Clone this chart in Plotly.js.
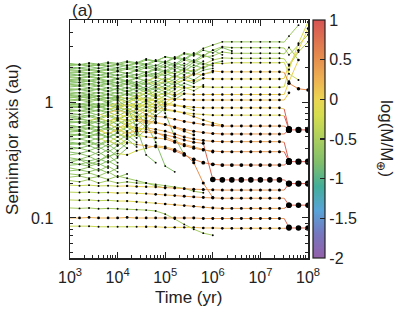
<!DOCTYPE html>
<html>
<head>
<meta charset="utf-8">
<script src="https://cdn.plot.ly/plotly-3.0.1.min.js"></script>
<style>
  html, body { margin: 0; padding: 0; background: #fff; }
  #chart { width: 402px; height: 320px; }
</style>
</head>
<body>
<div id="chart"></div>
<script>
// output times (yr); 3.162e7 is an extra sample without a snapshot dot
const times = [1000, 1585, 2512, 3981, 6310, 10000, 15850, 25120, 39810, 63100,
  100000, 158500, 251200, 398100, 631000, 1000000, 1585000, 2512000, 3981000, 6310000,
  10000000, 15850000, 25120000, 31620000, 39810000, 63100000, 100000000];
const snapshotTimes = [1585, 2512, 3981, 6310, 10000, 15850, 25120, 39810, 63100,
  100000, 158500, 251200, 398100, 631000, 1000000, 1585000, 2512000, 3981000, 6310000,
  10000000, 15850000, 25120000, 39810000, 63100000, 100000000];

// bodies that survive past the gas phase: semimajor axis (au) at each time
const survivorTracks = [
  [2.12,2.08,2.14,2.06,2.15,2.1,2.2,2.14,2.3,2.25,2.45,2.38,2.65,2.55,2.9,3.1,3.3,3.3,3.3,3.3,3.3,3.3,3.3,3.28,3.7,4.6,null],
  [2.06,2.1,2.03,2.09,2.02,2.1,2.04,2.15,2.08,2.25,2.18,2.4,2.3,2.6,2.5,2.8,3.0,2.94,2.94,2.94,2.94,2.94,2.94,2.92,2.55,3.1,3.8],
  [1.9,1.87,1.92,1.86,1.93,1.88,1.98,1.9,2.05,1.95,2.15,2.05,2.3,2.2,2.45,2.5,2.7,2.63,2.63,2.63,2.63,2.63,2.63,2.6,2.95,2.3,null],
  [1.77,1.8,1.75,1.81,1.74,1.83,1.76,1.88,1.8,1.95,1.85,2.05,1.95,2.2,2.1,2.3,2.4,2.38,2.38,2.38,2.38,2.38,2.38,2.36,2.05,2.7,3.3],
  [1.65,1.62,1.67,1.61,1.68,1.6,1.7,1.62,1.75,1.66,1.82,1.75,1.9,1.85,2.0,2.15,2.15,2.18,2.18,2.18,2.18,2.18,2.18,2.2,1.75,1.55,null],
  [1.53,1.55,1.51,1.56,1.5,1.57,1.49,1.6,1.52,1.62,1.55,1.65,1.62,1.75,1.72,1.85,1.82,1.82,1.82,1.82,1.82,1.82,1.82,1.8,1.45,1.3,1.27],
  [1.42,1.4,1.44,1.39,1.45,1.38,1.47,1.4,1.5,1.42,1.52,1.47,1.55,1.52,1.6,1.58,1.58,1.58,1.58,1.58,1.58,1.58,1.58,1.6,2.1,2.8,4.3],
  [1.28,1.3,1.26,1.31,1.25,1.32,1.24,1.33,1.26,1.35,1.3,1.36,1.32,1.35,1.35,1.34,1.34,1.34,1.34,1.34,1.34,1.34,1.34,1.35,1.9,3.2,4.9],
  [1.16,1.14,1.17,1.13,1.18,1.12,1.19,1.12,1.2,1.14,1.18,1.16,1.18,1.16,1.16,1.16,1.16,1.16,1.16,1.16,1.16,1.16,1.16,1.16,1.5,2.3,null],
  [1.04,1.06,1.03,1.07,1.02,1.08,1.01,1.09,1.02,1.08,1.05,1.06,1.05,1.04,1.04,1.04,1.04,1.04,1.04,1.04,1.04,1.04,1.04,1.04,1.2,null,null],
  [0.93,0.91,0.94,0.9,0.95,0.89,0.96,0.9,0.97,0.94,0.95,0.93,0.92,0.9,0.89,0.89,0.89,0.89,0.89,0.89,0.89,0.89,0.89,0.87,0.58,null,null],
  [0.84,0.85,0.83,0.86,0.82,0.87,0.81,0.86,0.84,0.85,0.85,0.83,0.81,0.79,0.78,0.77,0.77,0.77,0.77,0.77,0.77,0.77,0.77,0.76,0.58,null,null],
  [0.76,0.74,0.77,0.73,0.78,0.72,0.78,0.74,0.76,0.75,0.74,0.71,0.68,0.66,0.64,0.63,0.62,0.62,0.62,0.62,0.62,0.62,0.62,0.62,0.585,null,null],
  [0.67,0.68,0.66,0.69,0.65,0.7,0.64,0.69,0.66,0.66,0.64,0.61,0.58,0.56,0.545,0.535,0.53,0.53,0.53,0.53,0.53,0.53,0.53,0.53,0.575,0.575,0.575],
  [0.59,0.58,0.6,0.57,0.61,0.56,0.62,0.57,0.6,0.58,0.56,0.53,0.5,0.48,0.465,0.458,0.455,0.455,0.455,0.455,0.455,0.455,0.455,0.45,0.31,null,null],
  [0.52,0.53,0.51,0.54,0.5,0.54,0.5,0.52,0.5,0.49,0.48,0.45,0.42,0.4,0.385,0.377,0.373,0.373,0.373,0.373,0.373,0.373,0.373,0.373,0.306,0.306,0.306],
  [0.44,0.43,0.45,0.42,0.46,0.43,0.45,0.43,0.42,0.41,0.4,0.38,0.35,0.32,0.3,0.29,0.286,0.286,0.286,0.286,0.286,0.286,0.286,0.286,0.306,null,null],
  [0.55,0.56,0.54,0.57,0.53,0.58,0.54,0.56,0.55,0.54,0.52,0.5,0.47,0.45,0.44,0.215,0.213,0.213,0.213,0.213,0.213,0.213,0.213,0.213,0.198,0.198,0.198],
  [0.192,0.19,0.192,0.189,0.19,0.188,0.189,0.187,0.186,0.185,0.183,0.181,0.179,0.177,0.176,0.175,0.174,0.174,0.174,0.174,0.174,0.174,0.174,0.174,0.198,null,null],
  [0.167,0.166,0.167,0.165,0.166,0.164,0.165,0.163,0.162,0.16,0.158,0.156,0.154,0.152,0.15,0.149,0.148,0.148,0.148,0.148,0.148,0.148,0.148,0.148,0.129,0.129,0.129],
  [0.143,0.142,0.143,0.141,0.142,0.14,0.14,0.138,0.136,0.134,0.132,0.13,0.128,0.126,0.124,0.122,0.121,0.121,0.121,0.121,0.121,0.121,0.121,0.121,0.129,null,null],
  [0.1,0.1,0.101,0.1,0.1,0.1,0.101,0.1,0.1,0.1,0.1,0.1,0.1,0.1,0.099,0.099,0.099,0.099,0.099,0.099,0.099,0.099,0.099,0.099,0.083,null,null],
  [0.085,0.085,0.085,0.084,0.084,0.084,0.084,0.084,0.084,0.084,0.083,0.083,0.083,0.083,0.082,0.082,0.0815,0.0815,0.0815,0.0815,0.0815,0.0815,0.0815,0.0815,0.082,0.082,0.082]
];
// log(M/Mearth) from the given time index on
const survivorMass = [
  [[0,-0.7],[12,-0.6]],
  [[0,-0.7],[14,-0.55]],
  [[0,-0.75],[13,-0.55]],
  [[0,-0.7],[15,-0.45]],
  [[0,-0.7],[10,-0.4],[16,-0.25]],
  [[0,-0.7],[9,-0.3],[13,0.15],[24,0.55]],
  [[0,-0.7],[9,-0.25],[13,0.0]],
  [[0,-0.7],[10,-0.2]],
  [[0,-0.7],[8,-0.2],[11,0.05]],
  [[0,-0.65],[8,-0.1],[11,0.15]],
  [[0,-0.7],[6,-0.2],[10,0.1],[24,0.9]],
  [[0,-0.7],[8,-0.3],[12,-0.1],[24,0.9]],
  [[0,-0.7],[6,-0.2],[9,0.2],[12,0.4],[24,0.9]],
  [[0,-0.7],[5,-0.2],[8,0.2],[11,0.45],[24,0.95]],
  [[0,-0.7],[6,-0.2],[9,0.2],[11,0.4],[24,0.9]],
  [[0,-0.7],[6,-0.2],[9,0.2],[11,0.45],[24,0.95]],
  [[0,-0.7],[5,-0.3],[8,0.2],[11,0.6],[24,0.95]],
  [[0,-0.7],[4,-0.2],[7,0.2],[10,0.45],[15,0.85],[24,0.95]],
  [[0,-0.3],[6,0.0],[10,0.3],[13,0.45],[24,0.9]],
  [[0,-0.4],[5,-0.1],[9,0.2],[12,0.4],[24,0.85]],
  [[0,-0.4],[6,-0.1],[10,0.2],[13,0.35],[24,0.85]],
  [[0,0.25],[10,0.4],[24,0.85]],
  [[0,-0.3],[8,0.0],[14,0.2],[24,0.85]]
];

// planetesimals that merge or leave before the end
const bandTracks = [
  [2.15,2.1,2.17,2.12,2.2,2.15,2.25,2.18,2.35,2.25,2.45,2.35,2.6,2.5,2.8,2.65,2.95,2.75],
  [2.08,2.12,2.05,2.1,2.04,2.13,2.06,2.2,2.12,2.3,2.2,2.45,2.35,2.65,2.5,2.8,2.55],
  [2.0,1.97,2.02,1.96,2.03,1.98,2.08,2.0,2.12,2.05,2.25,2.1,2.4,2.25,2.55,2.35],
  [1.93,1.96,1.91,1.95,1.9,1.97,1.92,2.02,1.95,2.08,1.98,2.18,2.05,2.3,2.15,2.05],
  [1.86,1.84,1.88,1.83,1.89,1.84,1.92,1.85,1.98,1.88,2.05,1.9,2.15,1.98,2.25],
  [1.8,1.82,1.78,1.83,1.77,1.84,1.76,1.86,1.78,1.9,1.8,1.98,1.85,2.08,1.95,2.15,2.25],
  [1.74,1.71,1.75,1.7,1.76,1.69,1.78,1.7,1.82,1.72,1.88,1.75,1.95,1.8,2.0],
  [1.68,1.7,1.66,1.71,1.65,1.72,1.64,1.74,1.66,1.78,1.68,1.85,1.72,1.9],
  [1.62,1.6,1.64,1.59,1.65,1.58,1.66,1.6,1.7,1.62,1.76,1.64,1.82,1.7,1.88,1.95],
  [1.56,1.58,1.54,1.59,1.53,1.6,1.52,1.62,1.5,1.65,1.52,1.7,1.56,1.75],
  [1.5,1.48,1.52,1.47,1.53,1.46,1.55,1.45,1.57,1.47,1.62,1.5,1.68,1.55,1.75,1.8],
  [1.45,1.47,1.43,1.48,1.42,1.49,1.41,1.5,1.4,1.53,1.42,1.58],
  [1.4,1.38,1.41,1.37,1.42,1.36,1.43,1.35,1.46,1.36,1.5,1.4,1.55,1.45,1.6],
  [1.35,1.37,1.33,1.38,1.32,1.39,1.31,1.4,1.3,1.43,1.32,1.47,1.36],
  [1.3,1.28,1.32,1.27,1.33,1.26,1.34,1.25,1.36,1.26,1.4,1.3,1.45,1.35],
  [1.26,1.28,1.24,1.29,1.23,1.3,1.22,1.31,1.21,1.33,1.22,1.36],
  [1.22,1.2,1.23,1.19,1.24,1.18,1.25,1.17,1.27,1.18,1.3,1.2,1.34,1.25,1.4],
  [1.18,1.2,1.16,1.21,1.15,1.22,1.14,1.23,1.13,1.25,1.14,1.28],
  [1.14,1.12,1.15,1.11,1.16,1.1,1.17,1.09,1.19,1.1,1.22,1.12,1.26],
  [1.1,1.11,1.08,1.12,1.07,1.13,1.06,1.14,1.05,1.16,1.06],
  [1.06,1.04,1.07,1.03,1.08,1.02,1.09,1.01,1.11,1.02,1.14,1.05,1.18],
  [1.02,1.04,1.0,1.05,0.99,1.06,0.98,1.07,0.97,1.09,0.98,1.12],
  [0.98,0.96,0.99,0.95,1.0,0.94,1.01,0.93,1.03,0.94,1.06],
  [0.95,0.96,0.93,0.97,0.92,0.98,0.91,0.99,0.9,1.01,0.91,1.04],
  [0.92,0.9,0.93,0.89,0.94,0.88,0.95,0.87,0.97,0.88,1.0],
  [0.89,0.9,0.87,0.91,0.86,0.92,0.85,0.93,0.84,0.95],
  [0.86,0.84,0.87,0.83,0.88,0.82,0.89,0.81,0.91,0.82,0.94],
  [0.83,0.84,0.81,0.85,0.8,0.86,0.79,0.87,0.78,0.89],
  [0.8,0.78,0.81,0.77,0.82,0.76,0.83,0.75,0.85,0.76,0.88],
  [0.77,0.78,0.75,0.79,0.74,0.8,0.73,0.81,0.72,0.83],
  [0.74,0.72,0.75,0.71,0.76,0.7,0.77,0.69,0.79,0.7],
  [0.71,0.72,0.69,0.73,0.68,0.74,0.67,0.75,0.66,0.77],
  [0.68,0.66,0.69,0.65,0.7,0.64,0.71,0.63,0.73],
  [0.66,0.67,0.64,0.68,0.63,0.69,0.62,0.7,0.61,0.72],
  [0.63,0.61,0.64,0.6,0.65,0.59,0.66,0.58,0.68],
  [0.6,0.61,0.59,0.62,0.57,0.63,0.56,0.64],
  [0.58,0.56,0.59,0.55,0.6,0.54,0.61,0.53,0.63],
  [0.56,0.57,0.54,0.58,0.53,0.59,0.52,0.6],
  [0.53,0.52,0.54,0.51,0.55,0.5,0.56,0.49,0.58],
  [0.51,0.52,0.5,0.53,0.49,0.54,0.48,0.55],
  [0.49,0.48,0.5,0.47,0.51,0.46,0.52,0.45],
  [0.47,0.48,0.46,0.49,0.45,0.5,0.44],
  [0.45,0.44,0.46,0.43,0.47,0.42,0.48,0.41],
  [0.43,0.44,0.42,0.45,0.41,0.46,0.4],
  [0.41,0.4,0.42,0.39,0.43,0.38,0.44],
  [0.39,0.4,0.38,0.41,0.37,0.42],
  [0.37,0.36,0.38,0.35,0.39,0.34,0.4],
  [0.35,0.36,0.34,0.37,0.33,0.38],
  [0.33,0.32,0.34,0.31,0.35,0.3],
  [0.315,0.32,0.31,0.325,0.3,0.33],
  [0.3,0.29,0.305,0.285,0.31,0.28],
  [0.285,0.29,0.28,0.295,0.27],
  [0.27,0.26,0.275,0.255,0.28,0.25],
  [0.255,0.26,0.25,0.265,0.245,0.27],
  [0.24,0.235,0.245,0.23,0.25,0.225,0.24],
  [0.225,0.23,0.22,0.228,0.215,0.23,0.22,0.21,0.2,0.19,0.18],
  [0.21,0.205,0.215,0.2,0.21,0.2,0.205,0.2,0.2,0.195,0.19,0.185,0.18,0.17,0.165],
  [1.1,1.08,1.12,1.06,1.1,1.04,0.9,0.6,0.35,0.3],
  [0.9,0.92,0.88,0.93,0.87,0.9,0.85,0.8,0.65,0.45,0.28,0.25],
  [1.5,1.47,1.52,1.46,1.5,1.45,1.52,1.4,1.3,1.1,0.8,0.5,0.35],
  [0.122,0.121,0.122,0.12,0.121,0.12,0.119,0.118,0.117,0.115,0.108,0.098,0.088,0.08,0.074,0.071],
  [0.3,0.32,0.29,0.31,0.34,0.36,0.35,0.38,0.4,0.42,0.41,0.39,0.36,0.3,0.2,0.15],
  [0.7,0.71,0.69,0.72,0.68,0.72,0.7,0.71,0.69,0.67,0.64,0.6,0.56,0.52],
  [0.62,0.61,0.63,0.6,0.64,0.6,0.62,0.6,0.58,0.55,0.5,0.46,0.43,0.41,0.39,0.37],
  [0.95,0.94,0.96,0.93,0.97,0.92,0.95,0.93,0.92,0.9,0.87,0.84,0.8,0.75,0.7,0.66,0.63],
  [1.1,1.12,1.09,1.13,1.08,1.1,1.07,1.08,1.05,1.02,0.98,0.95,0.9,0.85]
];
const bandMass = [
  [[0,-0.75]], [[0,-0.75]], [[0,-0.8]], [[0,-0.75]], [[0,-0.7]],
  [[0,-0.75]], [[0,-0.8]], [[0,-0.75]], [[0,-0.7]], [[0,-0.75]],
  [[0,-0.75]], [[0,-0.8]], [[0,-0.7]], [[0,-0.75]], [[0,-0.75]],
  [[0,-0.8]], [[0,-0.7],[8,-0.4]], [[0,-0.75]], [[0,-0.75]], [[0,-0.7],[6,-0.3]],
  [[0,-0.75]], [[0,-0.7],[6,-0.2]], [[0,-0.75]], [[0,-0.7],[5,-0.1]], [[0,-0.75]],
  [[0,-0.7],[5,-0.2]], [[0,-0.75]], [[0,-0.7],[5,0.1]], [[0,-0.75]], [[0,-0.7],[4,-0.2]],
  [[0,-0.75]], [[0,-0.7],[3,-0.3]], [[0,-0.75]], [[0,-0.75]], [[0,-0.7],[5,-0.1]],
  [[0,-0.75]], [[0,-0.7]], [[0,-0.7],[4,0.0]], [[0,-0.75]], [[0,-0.7]],
  [[0,-0.75]], [[0,-0.7],[4,-0.2]], [[0,-0.75]], [[0,-0.7]], [[0,-0.75]],
  [[0,-0.7]], [[0,-0.75]], [[0,-0.7]], [[0,-0.7]], [[0,-0.75]],
  [[0,-0.7]], [[0,-0.7]], [[0,-0.65]], [[0,-0.7]], [[0,-0.65]],
  [[0,-0.6]], [[0,-0.55]],
  [[0,-0.75]], [[0,-0.75]], [[0,-0.75]],
  [[0,-0.55]], [[0,-0.7],[6,-0.2],[9,0.2],[12,0.5]],
  [[0,-0.7],[5,-0.2],[8,0.2]], [[0,-0.7],[6,-0.1],[9,0.3]],
  [[0,-0.7],[7,-0.2],[10,0.1]], [[0,-0.7],[8,-0.2]]
];

// colour scale for log(M/Mearth), -2 .. 1
const colorStops = [
  [0, '#9460aa'], [0.1, '#7676be'], [0.2, '#58a4d8'], [0.3, '#43ae9a'],
  [0.4, '#80be6c'], [0.5, '#abcf5e'], [0.6, '#d6dd4e'], [0.67, '#ecd452'],
  [0.75, '#eeb152'], [0.85, '#e58a4e'], [1, '#d65454']
];

function hexToRgb(h) {
  return [1, 3, 5].map(i => parseInt(h.substr(i, 2), 16));
}

function colorFor(m) {
  const f = Math.min(1, Math.max(0, (m + 2) / 3));
  for (let i = 1; i < colorStops.length; i++) {
    if (f <= colorStops[i][0]) {
      const [f0, c0] = colorStops[i - 1];
      const [f1, c1] = colorStops[i];
      const t = (f - f0) / (f1 - f0);
      const a = hexToRgb(c0), b = hexToRgb(c1);
      return 'rgb(' + a.map((v, j) => Math.round(v + (b[j] - v) * t)).join(',') + ')';
    }
  }
  return colorStops[colorStops.length - 1][1];
}

function massAt(steps, k) {
  let m = steps[0][1];
  steps.forEach(s => { if (k >= s[0]) m = s[1]; });
  return m;
}

// small dots for planetesimals, large ones for the big planets
function dotSize(m) {
  if (m <= 0.5) return Math.max(1.9, 2.4 + 1.4 * m);
  return 3.1 + 7 * (m - 0.5);
}

const lineBins = {};
const dots = { x: [], y: [], size: [] };

function addTrack(vals, steps) {
  for (let k = 1; k < vals.length; k++) {
    const a0 = vals[k - 1], a1 = vals[k];
    if (a0 == null || a1 == null) continue;
    const m = massAt(steps, k);
    const key = m.toFixed(2);
    if (!lineBins[key]) lineBins[key] = { x: [], y: [], m: m };
    lineBins[key].x.push(times[k - 1], times[k], null);
    lineBins[key].y.push(a0, a1, null);
  }
  for (let k = 0; k < vals.length; k++) {
    if (vals[k] == null || !snapshotTimes.includes(times[k])) continue;
    dots.x.push(times[k]);
    dots.y.push(vals[k]);
    dots.size.push(dotSize(massAt(steps, k)));
  }
}

bandTracks.forEach((t, i) => addTrack(t, bandMass[i]));
survivorTracks.forEach((t, i) => addTrack(t, survivorMass[i]));

const data = Object.values(lineBins)
  .sort((a, b) => a.m - b.m)
  .map(b => ({
    type: 'scatter', mode: 'lines', x: b.x, y: b.y,
    line: { color: colorFor(b.m), width: 1 },
    connectgaps: false, hoverinfo: 'skip'
  }));

data.push({
  type: 'scatter', mode: 'markers', x: dots.x, y: dots.y,
  marker: { color: '#000', size: dots.size, opacity: 1, line: { width: 0 } },
  hoverinfo: 'skip'
});

// colour bar only
data.push({
  type: 'scatter', mode: 'markers', x: [1000], y: [1], hoverinfo: 'skip',
  marker: {
    size: 0.1, color: [0], cmin: -2, cmax: 1, colorscale: colorStops, showscale: true,
    colorbar: {
      x: 1.021, xanchor: 'left', y: 0.5, yanchor: 'middle',
      len: 1, lenmode: 'fraction', thickness: 12, xpad: 0, ypad: 0,
      outlinewidth: 1.2, outlinecolor: '#222', borderwidth: 0,
      ticks: 'inside', ticklen: 5, tickwidth: 1.5, tickcolor: '#222',
      tickvals: [-2, -1.5, -1, -0.5, 0, 0.5, 1],
      ticktext: ['-2', '-1.5', '-1', '-0.5', '0', '0.5', '1'],
      tickfont: { size: 16, color: '#222' }
    }
  }
});

const xMinor = [], yMinor = [];
[1e3, 1e4, 1e5, 1e6, 1e7].forEach(d => { for (let j = 2; j <= 9; j++) xMinor.push(d * j); });
[0.01, 0.1, 1].forEach(d => { for (let j = 2; j <= 9; j++) yMinor.push(d * j); });

const layout = {
  width: 402, height: 320,
  margin: { l: 70, r: 94, t: 20, b: 62 },
  paper_bgcolor: '#fff', plot_bgcolor: '#fff',
  font: { family: 'Liberation Sans, Arial, sans-serif', size: 16, color: '#222' },
  showlegend: false,
  xaxis: {
    type: 'log', range: [3, 8],
    tickvals: [1e3, 1e4, 1e5, 1e6, 1e7, 1e8],
    ticktext: ['10<sup>3</sup>', '10<sup>4</sup>', '10<sup>5</sup>', '10<sup>6</sup>', '10<sup>7</sup>', '10<sup>8</sup>'],
    ticks: 'inside', ticklen: 6, tickwidth: 1, tickcolor: '#222',
    mirror: 'allticks', showline: true, linecolor: '#222', linewidth: 1.5,
    showgrid: false, zeroline: false, ticklabelstandoff: 4,
    minor: { ticks: 'inside', ticklen: 3, tickcolor: '#222', tickvals: xMinor, showgrid: false }
  },
  yaxis: {
    type: 'log', range: [-1.345, 0.707],
    tickvals: [0.1, 1], ticktext: ['0.1', '1'],
    ticks: 'inside', ticklen: 6, tickwidth: 1, tickcolor: '#222',
    mirror: 'allticks', showline: true, linecolor: '#222', linewidth: 1.5,
    showgrid: false, zeroline: false, ticklabelstandoff: 12,
    minor: { ticks: 'inside', ticklen: 3, tickcolor: '#222', tickvals: yMinor, showgrid: false }
  },
  annotations: [
    { text: '(a)', xref: 'paper', yref: 'paper', x: 0, y: 1.042, xanchor: 'left', yanchor: 'middle',
      showarrow: false, font: { size: 17 } },
    { text: 'Semimajor axis (au)', xref: 'paper', yref: 'paper', x: -0.244, y: 0.5, textangle: -90,
      xanchor: 'center', yanchor: 'middle', showarrow: false, font: { size: 17 } },
    { text: 'Time (yr)', xref: 'paper', yref: 'paper', x: 0.496, y: -0.164,
      xanchor: 'center', yanchor: 'middle', showarrow: false, font: { size: 17 } },
    { text: 'log(M/M<sub>⊕</sub>)', xref: 'paper', yref: 'paper', x: 1.3235, y: 0.5, textangle: 90,
      xanchor: 'center', yanchor: 'middle', showarrow: false, font: { size: 17 } }
  ]
};

Plotly.newPlot('chart', data, layout, { displayModeBar: false, staticPlot: true });
</script>
</body>
</html>
